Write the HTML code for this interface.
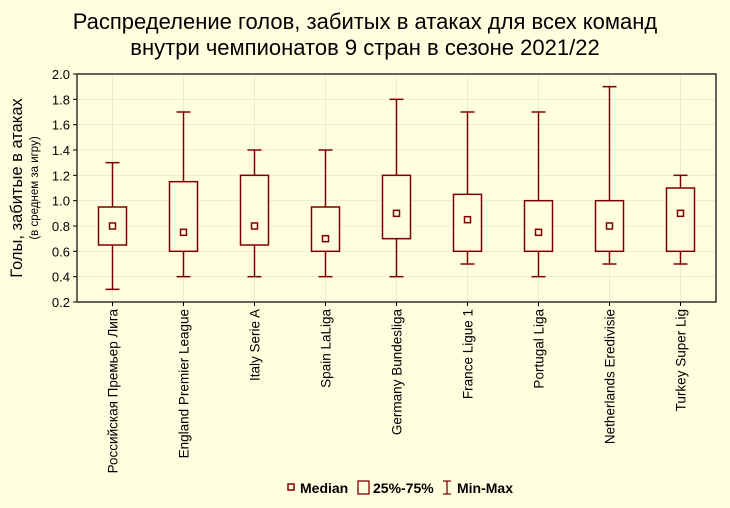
<!DOCTYPE html>
<html><head><meta charset="utf-8"><style>
body{margin:0;background:#ffffe0;}
svg{display:block;font-family:"Liberation Sans",sans-serif;}
</style></head><body>
<svg id="c" width="730" height="508">
<rect x="0" y="0" width="730" height="508" fill="#ffffe0"/>
<text x="365" y="29" font-size="22" text-anchor="middle">Распределение голов, забитых в атаках для всех команд</text>
<text x="365" y="55" font-size="22" text-anchor="middle">внутри чемпионатов 9 стран в сезоне 2021/22</text>
<text transform="translate(22,188) rotate(-90)" font-size="16.5" text-anchor="middle">Голы, забитые в атаках</text>
<text transform="translate(38,188) rotate(-90)" font-size="11.5" text-anchor="middle">(в среднем за игру)</text>
<g id="plot"></g>
<g>
<rect x="288" y="484" width="6" height="6" fill="none" stroke="#800000" stroke-width="1.5"/>
<text x="300" y="493" font-size="14" font-weight="bold">Median</text>
<rect x="358" y="481" width="11" height="13" fill="none" stroke="#800000" stroke-width="1.3"/>
<text x="373" y="493" font-size="14" font-weight="bold">25%-75%</text>
<path d="M443 481h8M447 481v13M443 494h8" stroke="#800000" stroke-width="1.3" fill="none"/>
<text x="457" y="493" font-size="14" font-weight="bold">Min-Max</text>
</g>
</svg>
<script>
const categories=["Российская Премьер Лига","England Premier League","Italy Serie A","Spain LaLiga","Germany Bundesliga","France Ligue 1","Portugal Liga","Netherlands Eredivisie","Turkey Super Lig"];
const mins=[0.3,0.4,0.4,0.4,0.4,0.5,0.4,0.5,0.5];
const q1s=[0.65,0.6,0.65,0.6,0.7,0.6,0.6,0.6,0.6];
const medians=[0.8,0.75,0.8,0.7,0.9,0.85,0.75,0.8,0.9];
const q3s=[0.95,1.15,1.2,0.95,1.2,1.05,1.0,1.0,1.1];
const maxs=[1.3,1.7,1.4,1.4,1.8,1.7,1.7,1.9,1.2];
const yTicks=[0.2,0.4,0.6,0.8,1.0,1.2,1.4,1.6,1.8,2.0];
const L=77,R=716,T=74,B=302,C='#800000',NS='http://www.w3.org/2000/svg';
const y=v=>B-(v-0.2)/1.8*(B-T);
const x=i=>L+(R-L)/categories.length*(i+0.5);
const g=document.getElementById('plot');
function mk(t,a,name){const e=document.createElementNS(NS,t);for(const k in a)e.setAttribute(k,a[k]);


g.appendChild(e);return e;}
yTicks.forEach(v=>{
 mk('line',{x1:L,x2:R,y1:y(v),y2:y(v),stroke:'#ececd2','stroke-width':1},'grid-line');
 mk('line',{x1:L-4,x2:L,y1:y(v),y2:y(v),stroke:'#000'},'y-tick');
 const t=mk('text',{x:L-7,y:y(v)+5,'font-size':13,'text-anchor':'end'},'y-tick-label');t.textContent=v.toFixed(1);
});
categories.forEach((c,i)=>mk('line',{x1:x(i),x2:x(i),y1:T,y2:B,stroke:'#ececd2'},'grid-line-x'));
mk('rect',{x:L,y:T,width:R-L,height:B-T,fill:'none',stroke:'#000','stroke-width':1.2},'plot-frame');
categories.forEach((c,i)=>{
 const cx=x(i),w=28,cap=14;
 mk('line',{x1:cx,x2:cx,y1:y(mins[i]),y2:y(q1s[i]),stroke:C,'stroke-width':1.5},'whisker-low');
 mk('line',{x1:cx,x2:cx,y1:y(q3s[i]),y2:y(maxs[i]),stroke:C,'stroke-width':1.5},'whisker-high');
 mk('line',{x1:cx-cap/2,x2:cx+cap/2,y1:y(mins[i]),y2:y(mins[i]),stroke:C,'stroke-width':1.5},'min-cap');
 mk('line',{x1:cx-cap/2,x2:cx+cap/2,y1:y(maxs[i]),y2:y(maxs[i]),stroke:C,'stroke-width':1.5},'max-cap');
 mk('rect',{x:cx-w/2,y:y(q3s[i]),width:w,height:y(q1s[i])-y(q3s[i]),fill:'#ffffe0',stroke:C,'stroke-width':1.5},'box');
 mk('rect',{x:cx-3,y:y(medians[i])-3,width:6,height:6,fill:'none',stroke:C,'stroke-width':1.5},'median-marker');
 mk('line',{x1:cx,x2:cx,y1:B,y2:B+4,stroke:'#000'},'x-tick');
 const t=mk('text',{transform:`translate(${cx+5},309) rotate(-90)`,'font-size':13.5,'text-anchor':'end'},'x-tick-label');t.textContent=c;
});
</script>
</body></html>
